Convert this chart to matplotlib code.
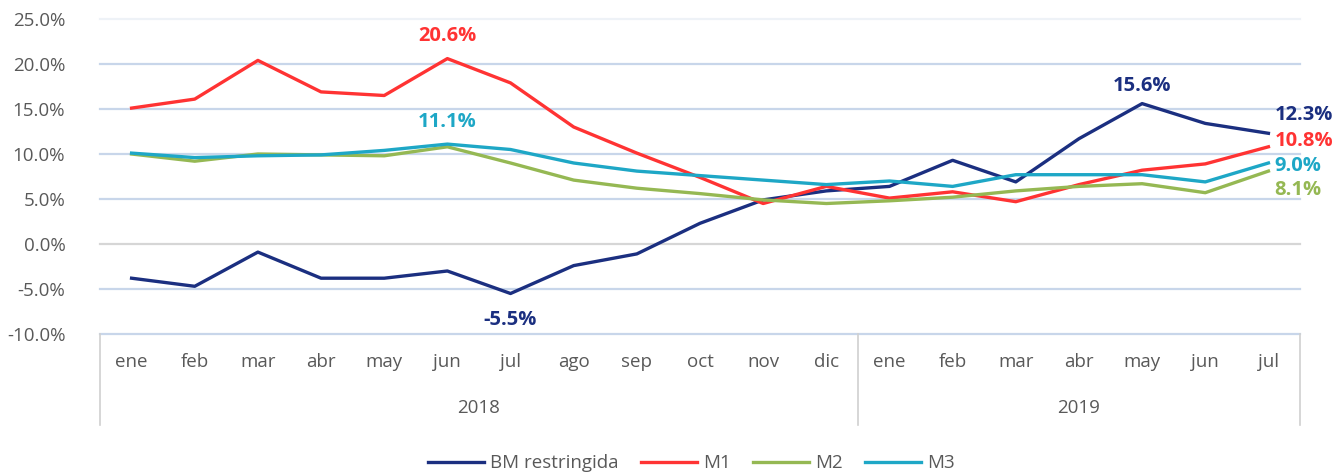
import matplotlib.pyplot as plt
from matplotlib.ticker import FuncFormatter
import matplotlib.transforms as mtransforms

plt.rcParams['font.family'] = ['Open Sans', 'DejaVu Sans']

# data (percent, yoy)
months = ['ene', 'feb', 'mar', 'abr', 'may', 'jun', 'jul', 'ago', 'sep', 'oct', 'nov', 'dic',
          'ene', 'feb', 'mar', 'abr', 'may', 'jun', 'jul']
years = ['2018', '2019']
year_len = [12, 7]

bm = [-3.8, -4.7, -0.9, -3.8, -3.8, -3.0, -5.5, -2.4, -1.1, 2.3, 4.9, 5.9,
      6.4, 9.3, 6.9, 11.7, 15.6, 13.4, 12.3]
m1 = [15.1, 16.1, 20.4, 16.9, 16.5, 20.6, 17.9, 13.0, 10.1, 7.4, 4.5, 6.4,
      5.1, 5.8, 4.7, 6.6, 8.2, 8.9, 10.8]
m2 = [10.0, 9.2, 10.0, 9.9, 9.8, 10.8, 9.0, 7.1, 6.2, 5.6, 4.9, 4.5,
      4.8, 5.2, 5.9, 6.4, 6.7, 5.7, 8.1]
m3 = [10.1, 9.6, 9.8, 9.9, 10.4, 11.1, 10.5, 9.0, 8.1, 7.6, 7.1, 6.6,
      7.0, 6.4, 7.7, 7.7, 7.7, 6.9, 9.0]

names = ['BM restringida', 'M1', 'M2', 'M3']
colors = ['#1B2F80', '#FF3333', '#95B853', '#1EA7C6']

fig = plt.figure(figsize=(13.42, 4.75), dpi=100)
ax = fig.add_axes([100 / 1342, 1 - 334 / 475, 1200 / 1342, 315 / 475])

x = list(range(len(months)))
for ser, name, c in zip([bm, m1, m2, m3], names, colors):
    ax.plot(x, ser, color=c, lw=2.4, label=name, solid_joinstyle='round')

ax.set_xlim(-0.5, len(months) - 0.5)
ax.set_ylim(-10, 25)
ax.set_yticks(range(-10, 26, 5))
ax.yaxis.set_major_formatter(FuncFormatter(lambda v, p: f'{v:.1f}%'))
for v in range(-10, 26, 5):
    if v == 0:
        col = '#D6D6D6'
    elif v == 25:
        col = '#EEF2F7'
    else:
        col = '#C8D6EA'
    ax.axhline(v, color=col, lw=1.6, zorder=0, clip_on=False)
for s in ax.spines.values():
    s.set_visible(False)
ax.tick_params(axis='y', length=0, pad=25, labelsize=13.5, labelcolor='#595959')

ax.set_xticks(x)
ax.set_xticklabels(months)
ax.tick_params(axis='x', length=0, pad=14, labelsize=13.5, labelcolor='#595959')

# category box lines and year labels
trans = mtransforms.blended_transform_factory(ax.transData, ax.transAxes)
bottom = -91 / 315
start = -0.5
for yr, n in zip(years, year_len):
    ax.plot([start, start], [0, bottom], transform=trans, color='#D0D0D0', lw=1.2, clip_on=False)
    ax.text(start + n / 2, -74 / 315, yr, transform=trans, ha='center', va='center',
            fontsize=13.5, color='#595959')
    start += n
ax.plot([start, start], [0, bottom], transform=trans, color='#D0D0D0', lw=1.2, clip_on=False)

# value labels
lab_kw = dict(fontsize=14.5, fontweight='bold', ha='center', va='center')
ax.text(5, m1[5] + 2.5, f'{m1[5]:.1f}%', color=colors[1], **lab_kw)
ax.text(5, m3[5] + 2.5, f'{m3[5]:.1f}%', color=colors[3], **lab_kw)
ax.text(6, bm[6] - 2.9, f'{bm[6]:.1f}%', color=colors[0], **lab_kw)
ax.text(16, bm[16] + 2.0, f'{bm[16]:.1f}%', color=colors[0], **lab_kw)
for ser, c, yy in zip([bm, m1, m3, m2], [colors[0], colors[1], colors[3], colors[2]],
                      [14.3, 11.4, 8.7, 6.0]):
    ax.text(18.1, yy, f'{ser[-1]:.1f}%', color=c, fontsize=14.5, fontweight='bold',
            ha='left', va='center', clip_on=False)

fig.legend(loc='center', bbox_to_anchor=(0.515, 0.025), ncol=4, frameon=False,
           fontsize=13.5, handlelength=3.0, handletextpad=0.3, columnspacing=1.2,
           labelcolor='#595959')

fig.savefig('out.png', dpi=100)
